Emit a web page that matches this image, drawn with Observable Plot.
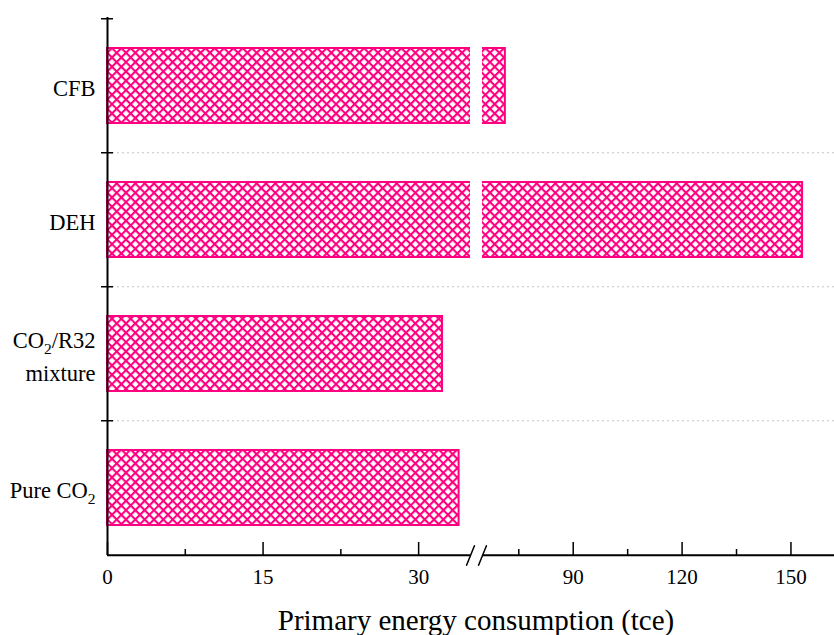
<!DOCTYPE html>
<html><head><meta charset="utf-8">
<script src="https://cdn.jsdelivr.net/npm/d3@7"></script>
<script src="https://cdn.jsdelivr.net/npm/@observablehq/plot@0.6"></script>
<style>
body{margin:0;background:#fff}
#chart svg{display:block}
</style>
</head><body>
<svg width="0" height="0" style="position:absolute">
  <defs>
    <pattern id="xhatch" patternUnits="userSpaceOnUse" width="6.6" height="6.6" patternTransform="rotate(45)">
      <rect width="6.6" height="6.6" fill="#ffffff"/>
      <rect width="6.6" height="2.1" fill="#ff0080"/>
      <rect width="2.1" height="6.6" fill="#ff0080"/>
    </pattern>
  </defs>
</svg>
<div id="chart"></div>
<script>
// ---- data ----
const categories = ["CFB", "DEH", "CO₂/R32\nmixture", "Pure CO₂"];
const values = [71.3, 153.2, 32.3, 33.9];
const majorTicks = [0, 15, 30, 90, 120, 150];
const minorTicks = [7.5, 22.5, 75, 105, 135];
const breakStart = 35, breakEnd = 65, xMax = 162;
const xTitle = ["Primary energy consumption (tce)"];

// ---- layout ----
const W = 834, H = 635, mT = 17, mB = 80, mL = 107, mR = 0;
const frameH = H - mT - mB, frameW = W - mL - mR;
const step = frameH / categories.length;
const pad = 1 - 75 / step;
const pink = "#ff0080";
const font = "'Liberation Serif', 'Times New Roman', serif";

const table = categories.map((c, i) => ({category: c, value: values[i]}));
const segments = table.flatMap(d => {
  const s = [{category: d.category, x1: 0, x2: Math.min(d.value, breakStart)}];
  if (d.value > breakEnd) s.push({category: d.category, x1: breakEnd, x2: d.value});
  return s;
});
const broken = table.filter(d => d.value > breakEnd);
const axisSegs = [{x1: 0, x2: breakStart}, {x1: breakEnd, x2: xMax}];
const slash = {draw(ctx, l) { ctx.moveTo(0, 0); ctx.lineTo(0, -l); }};

const chart = Plot.plot({
  width: W, height: H,
  marginTop: mT, marginBottom: mB, marginLeft: mL, marginRight: mR,
  style: {fontFamily: font, background: "#fff", color: "#000"},
  x: {type: "linear", domain: [0, breakStart, breakEnd, xMax], range: [107, 470, 482, 834], axis: null},
  y: {type: "band", domain: categories, paddingInner: pad, paddingOuter: pad / 2},
  marks: [
    // dotted separators
    Plot.ruleY(categories.slice(1), {y: d => d, dy: -step / 2, stroke: "#c4c4c4", strokeWidth: 1, strokeDasharray: "2,3"}),
    // hatched bars
    Plot.barX(segments, {y: "category", x1: "x1", x2: "x2", fill: "url(#xhatch)"}),
    Plot.barX(table, {y: "category", x1: 0, x2: "value", fill: "none", stroke: pink, strokeWidth: 2}),
    Plot.barX(broken, {y: "category", x1: breakStart, x2: breakEnd, fill: "#fff", insetTop: -2, insetBottom: -2}),
    // y axis line and crossing ticks
    Plot.ruleX([0], {stroke: "#000", strokeWidth: 2}),
    Plot.tickY(categories, {y: d => d, dy: -step / 2, insetLeft: -6, insetRight: frameW - 6, stroke: "#000", strokeWidth: 1.5}),
    // x axis line with break
    Plot.ruleY(axisSegs, {y: () => categories[categories.length - 1], dy: step / 2, x1: "x1", x2: "x2", stroke: "#000", strokeWidth: 2}),
    Plot.vector([breakStart, breakEnd], {x: d => d, frameAnchor: "bottom", length: 21, rotate: 22, anchor: "middle", shape: slash, stroke: "#000", strokeWidth: 1.5}),
    Plot.tickX(majorTicks, {x: d => d, insetTop: frameH - 13, stroke: "#000", strokeWidth: 1.5}),
    Plot.tickX(minorTicks, {x: d => d, insetTop: frameH - 6, stroke: "#000", strokeWidth: 1.5}),
    // x tick labels
    Plot.text(majorTicks, {x: d => d, text: d => String(d), frameAnchor: "bottom", dy: 14, lineAnchor: "top", fontSize: 21, fill: "#000"}),
    Plot.axisY({tickSize: 0, tickPadding: 12, fontSize: 22.5, lineHeight: 1.45, label: null}),
    Plot.text(xTitle, {text: d => d, frameAnchor: "bottom", dy: 65, dx: 5, fontSize: 29, lineAnchor: "middle", fill: "#000"})
  ]
});

// subscript rendering for "₂"
chart.querySelectorAll("text, tspan").forEach(el => {
  for (const node of Array.from(el.childNodes)) {
    if (node.nodeType === 3 && node.nodeValue.includes("₂")) {
      const parts = node.nodeValue.split("₂");
      const frag = document.createDocumentFragment();
      parts.forEach((p, i) => {
        if (i === 0) {
          if (p) frag.appendChild(document.createTextNode(p));
        } else {
          const sub = document.createElementNS("http://www.w3.org/2000/svg", "tspan");
          sub.setAttribute("font-size", "15.5");
          sub.setAttribute("dy", "6");
          sub.textContent = "2";
          frag.appendChild(sub);
          if (p) {
            const rest = document.createElementNS("http://www.w3.org/2000/svg", "tspan");
            rest.setAttribute("dy", "-6");
            rest.textContent = p;
            frag.appendChild(rest);
          }
        }
      });
      el.replaceChild(frag, node);
    }
  }
});

document.getElementById("chart").appendChild(chart);
</script>
</body></html>
